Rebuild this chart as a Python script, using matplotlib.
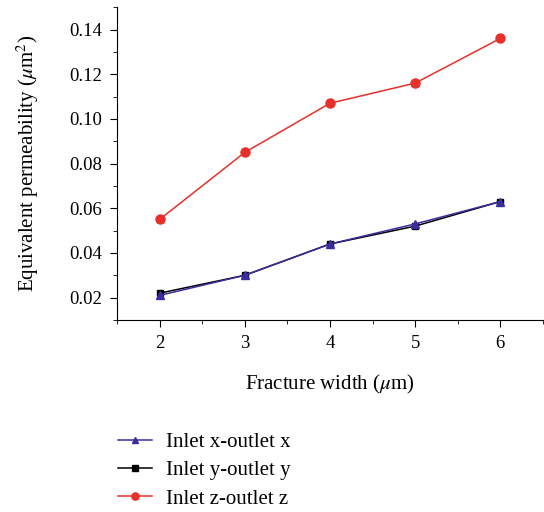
import matplotlib
matplotlib.use("Agg")
import matplotlib.pyplot as plt
from matplotlib.ticker import MultipleLocator

# data
width = [2, 3, 4, 5, 6]
perm_x = [0.021, 0.030, 0.044, 0.053, 0.063]
perm_y = [0.022, 0.030, 0.044, 0.052, 0.063]
perm_z = [0.055, 0.085, 0.107, 0.116, 0.136]
labels = ["Inlet x-outlet x", "Inlet y-outlet y", "Inlet z-outlet z"]

plt.rcParams['font.family'] = ['Liberation Serif', 'DejaVu Serif']
plt.rcParams['mathtext.fontset'] = 'stix'

fig = plt.figure(figsize=(5.44, 5.12), dpi=100)
ax = fig.add_axes([0.215, 0.375, 0.783, 0.611])

h1, = ax.plot(width, perm_x, '-^', color='#3a2e9e', ms=6, lw=1.1, zorder=4)
h2, = ax.plot(width, perm_y, '-s', color='black', ms=5, lw=1.1, zorder=3)
h3, = ax.plot(width, perm_z, '-o', color='#e8302a', ms=6.5, lw=1.1, zorder=3)

ax.set_xlim(1.5, 6.5)
ax.set_ylim(0.01, 0.15)
ax.xaxis.set_major_locator(MultipleLocator(1))
ax.xaxis.set_minor_locator(MultipleLocator(0.5))
ax.yaxis.set_major_locator(MultipleLocator(0.02))
ax.yaxis.set_minor_locator(MultipleLocator(0.01))
ax.yaxis.set_major_formatter(lambda v, p: f"{v:.2f}")
for s in ('top', 'right'):
    ax.spines[s].set_visible(False)
ax.tick_params(which='major', length=5, labelsize=13.5, pad=6)
ax.tick_params(which='minor', length=3)

ax.set_xlabel(r"Fracture width ($\mu$m)", fontsize=15, labelpad=15)
ax.set_ylabel(r"Equivalent permeability ($\mu$m$^2$)", fontsize=15, labelpad=20)

fig.legend([h1, h2, h3], labels, loc='upper left', bbox_to_anchor=(0.183, 0.192),
           frameon=False, fontsize=15, handlelength=1.6, handletextpad=0.7,
           labelspacing=0.42, markerscale=0.8)

fig.savefig("out.png", dpi=100)
